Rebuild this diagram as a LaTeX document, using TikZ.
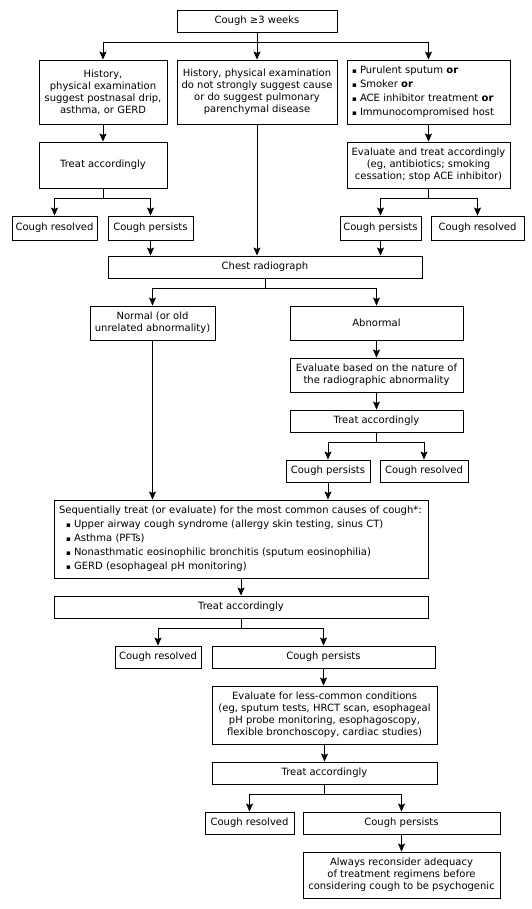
\documentclass[tikz,border=0pt]{standalone}
\usepackage{fontspec}
\setmainfont{DejaVu Sans}
\usetikzlibrary{arrows.meta}
\newcommand{\mybul}{\makebox[8pt][l]{\raisebox{0.6pt}{\fontsize{7}{7}\selectfont ▪}}}
\tikzset{
  box/.style={draw, line width=0.9pt, inner sep=0pt, align=center, font=\fontsize{10}{12}\selectfont},
  lbox/.style={draw, line width=0.9pt, inner xsep=5pt, inner ysep=0pt, align=left, font=\fontsize{10}{14}\selectfont},
  arr/.style={line width=0.9pt, -{Stealth[length=8pt,width=7pt,inset=1.5pt]}},
  ln/.style={line width=0.9pt}
}
\begin{document}
\begin{tikzpicture}[x=1pt,y=-1pt]
\fill[white] (0,0) rectangle (531,909);
\useasboundingbox (0,0) rectangle (531,909);

\node[box, minimum width=160pt, minimum height=22pt] (top) at (257,21) {Cough ≥3 weeks};
\node[box, minimum width=128pt, minimum height=64pt] (L1) at (103,92) {History,\\physical examination\\suggest postnasal drip,\\asthma, or GERD};
\node[box, minimum width=160pt, minimum height=64pt] (M1) at (257,92) {History, physical examination\\do not strongly suggest cause\\or do suggest pulmonary\\parenchymal disease};
\node[lbox, text width=153pt, minimum height=64pt] (R1) at (428.5,92) {\mybul Purulent sputum \textbf{or}\\\mybul Smoker \textbf{or}\\\mybul ACE inhibitor treatment \textbf{or}\\\mybul Immunocompromised host};
\node[box, minimum width=128pt, minimum height=46pt] (L2) at (103,165) {Treat accordingly};
\node[box, minimum width=163pt, minimum height=46pt] (R2) at (428.5,165) {Evaluate and treat accordingly\\(eg, antibiotics; smoking\\cessation; stop ACE inhibitor)};
\node[box, minimum width=85pt, minimum height=24pt] (Lres) at (54.5,228) {Cough resolved};
\node[box, minimum width=85pt, minimum height=24pt] (Lper) at (150.5,228) {Cough persists};
\node[box, minimum width=81pt, minimum height=24pt] (Rper) at (380.5,228) {Cough persists};
\node[box, minimum width=93pt, minimum height=24pt] (Rres) at (477.5,228) {Cough resolved};
\node[box, minimum width=314pt, minimum height=22pt] (chest) at (265,267) {Chest radiograph};
\node[box, minimum width=125pt, minimum height=34pt] (normal) at (152.5,323) {Normal (or old\\unrelated abnormality)};
\node[box, minimum width=173pt, minimum height=34pt] (abn) at (376.5,323) {Abnormal};
\node[box, minimum width=173pt, minimum height=34pt] (evb) at (376.5,375) {Evaluate based on the nature of\\the radiographic abnormality};
\node[box, minimum width=173pt, minimum height=22pt] (tr2) at (376.5,421) {Treat accordingly};
\node[box, minimum width=84pt, minimum height=22pt] (per2) at (328,471) {Cough persists};
\node[box, minimum width=88pt, minimum height=22pt] (res2) at (424,471) {Cough resolved};
\node[lbox, text width=364pt, minimum height=78pt] (big) at (241,539) {Sequentially treat (or evaluate) for the most common causes of cough*:\\
\hspace*{7pt}\mybul Upper airway cough syndrome (allergy skin testing, sinus CT)\\
\hspace*{7pt}\mybul Asthma (PFTs)\\
\hspace*{7pt}\mybul Nonasthmatic eosinophilic bronchitis (sputum eosinophilia)\\
\hspace*{7pt}\mybul GERD (esophageal pH monitoring)};
\node[box, minimum width=374pt, minimum height=22pt] (tr3) at (241,607) {Treat accordingly};
\node[box, minimum width=86pt, minimum height=22pt] (res3) at (158,657) {Cough resolved};
\node[box, minimum width=223pt, minimum height=22pt] (per3) at (323.5,657) {Cough persists};
\node[box, minimum width=225pt, minimum height=58pt] (evl) at (324.5,715) {Evaluate for less-common conditions\\(eg, sputum tests, HRCT scan, esophageal\\pH probe monitoring, esophagoscopy,\\flexible bronchoscopy, cardiac studies)};
\node[box, minimum width=225pt, minimum height=22pt] (tr4) at (324.5,773) {Treat accordingly};
\node[box, minimum width=89pt, minimum height=22pt] (res4) at (249.5,823) {Cough resolved};
\node[box, minimum width=197pt, minimum height=22pt] (per4) at (401.5,823) {Cough persists};
\node[box, minimum width=197pt, minimum height=46pt] (fin) at (401.5,875) {Always reconsider adequacy\\of treatment regimens before\\considering cough to be psychogenic};

% connectors
\draw[arr] (top.south) -- ++(0,10) -| (L1.north);
\draw[arr] (top.south) -- ++(0,10) -| (R1.north);
\draw[arr] (top) -- (M1);
\draw[arr] (L1) -- (L2);
\draw[arr] (R1) -- (R2);
\draw[arr] (L2.south) -- ++(0,10) -| (Lres.north);
\draw[arr] (L2.south) -- ++(0,10) -| (Lper.north);
\draw[arr] (R2.south) -- ++(0,10) -| (Rper.north);
\draw[arr] (R2.south) -- ++(0,10) -| (Rres.north);
\draw[arr] (Lper) -- (Lper |- chest.north);
\draw[arr] (M1) -- (M1 |- chest.north);
\draw[arr] (Rper) -- (Rper |- chest.north);
\draw[arr] (chest.south) -- ++(0,10) -| (normal.north);
\draw[arr] (chest.south) -- ++(0,10) -| (abn.north);
\draw[arr] (abn) -- (evb);
\draw[arr] (evb) -- (tr2);
\draw[arr] (tr2.south) -- ++(0,10) -| (per2.north);
\draw[arr] (tr2.south) -- ++(0,10) -| (res2.north);
\draw[arr] (normal) -- (normal |- big.north);
\draw[arr] (per2) -- (per2 |- big.north);
\draw[arr] (big) -- (tr3);
\draw[arr] (tr3.south) -- ++(0,10) -| (res3.north);
\draw[arr] (tr3.south) -- ++(0,10) -| (per3.north);
\draw[arr] (per3) -- (per3 |- evl.north);
\draw[arr] (evl) -- (tr4);
\draw[arr] (tr4.south) -- ++(0,10) -| (res4.north);
\draw[arr] (tr4.south) -- ++(0,10) -| (per4.north);
\draw[arr] (per4) -- (fin);
\end{tikzpicture}
\end{document}
